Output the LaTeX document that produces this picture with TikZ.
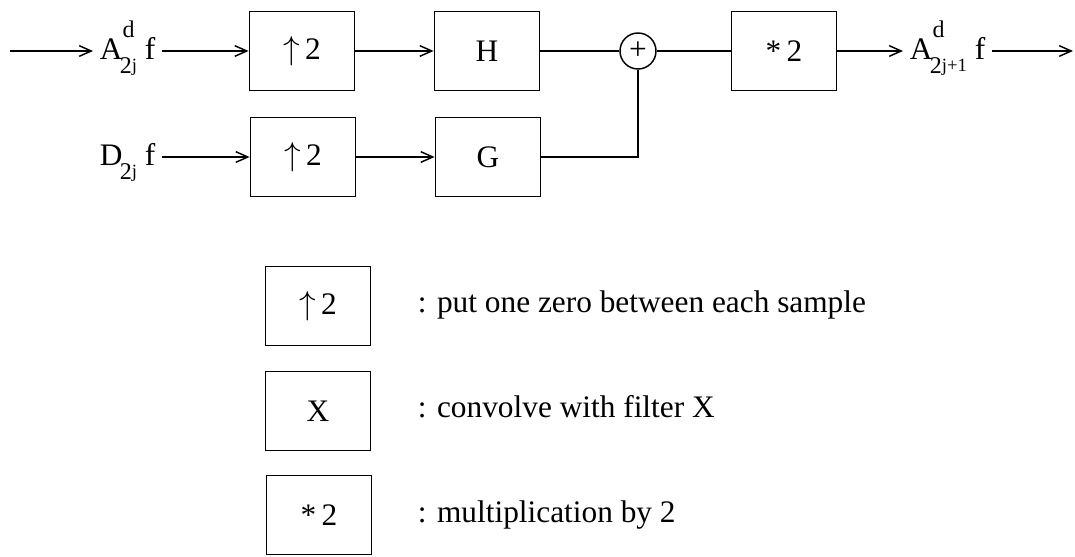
\documentclass[tikz,border=0pt]{standalone}
\usepackage{fontspec}
\setmainfont{Liberation Serif}
\usepackage{tikz}
\usetikzlibrary{arrows.meta}

% letter with stacked indices, as printed in the scan
\newcommand{\idxsup}[1]{\rlap{\raisebox{16pt}{\fontsize{18}{18}\selectfont #1}}}
\newcommand{\idxsub}[2]{\hspace{-2pt}\raisebox{-11pt}{\fontsize{18}{18}\selectfont #1\raisebox{2pt}{\fontsize{14}{14}\selectfont #2}}}

\tikzset{
  blk/.style={draw, line width=1.1pt, minimum width=79pt, minimum height=59pt, inner sep=0pt},
  sumnode/.style={draw, circle, line width=1.1pt, minimum size=27pt, inner sep=0pt},
  lbl/.style={inner xsep=5pt, inner ysep=0pt, anchor=base west},
  sig/.style={line width=1.1pt, -{Straight Barb[length=9pt,width=8pt]}},
  wire/.style={line width=1.1pt},
}

\begin{document}
\begin{tikzpicture}[x=0.75pt,y=0.75pt,yscale=-1,xscale=1,
  every node/.style={font=\fontsize{23.5}{27}\selectfont}]
\useasboundingbox (0,0) rectangle (1075,557);

% Blocks, upper row
\node[blk] (up1) at (302,51) {$\uparrow$\,2};
\node[blk] (filtH) at (487,51) {H};
\node[sumnode] (sum) at (638,51) {+};
\node[blk] (mul) at (784,51) {*\,2};
% Blocks, lower row
\node[blk] (up2) at (303,157) {$\uparrow$\,2};
\node[blk] (filtG) at (488,157) {G};

% Text Node
\node[lbl] (Ain) at (93,59) {A\idxsup{d}\idxsub{2}{j}\ f};
% Text Node
\node[lbl] (Dj) at (93,165) {D\idxsub{2}{j}\ f};
% Text Node
\node[lbl] (Aout) at (903,59) {A\idxsup{d}\idxsub{2}{j+1}\ f};

\coordinate (in) at (10,51);
\coordinate (out) at (1073,51);

% Connectors
\draw[sig] (in) -- (in -| Ain.west);
\draw[sig] (Ain.east |- up1.west) -- (up1.west);
\draw[sig] (Dj.east |- up2.west) -- (up2.west);
\draw[sig] (up1) -- (filtH);
\draw[sig] (up2) -- (filtG);
\draw[wire] (filtH) -- (sum);
\draw[wire] (filtG.east) -| (sum.south);
\draw[wire] (sum) -- (mul);
\draw[sig] (mul.east) -- (mul.east -| Aout.west);
\draw[sig] (Aout.east |- out) -- (out);

% Legend
\node[blk] (legUp) at (318,306) {$\uparrow$\,2};
\node[blk] (legX) at (318,411) {X};
\node[blk] (legMul) at (319,515) {*\,2};
% Text Node
\node[lbl] (legUpTxt) at (411,312) {: put one zero between each sample};
% Text Node
\node[lbl] (legXTxt) at (411,417) {: convolve with filter X};
% Text Node
\node[lbl] (legMulTxt) at (411,522) {: multiplication by 2};

\end{tikzpicture}
\end{document}
